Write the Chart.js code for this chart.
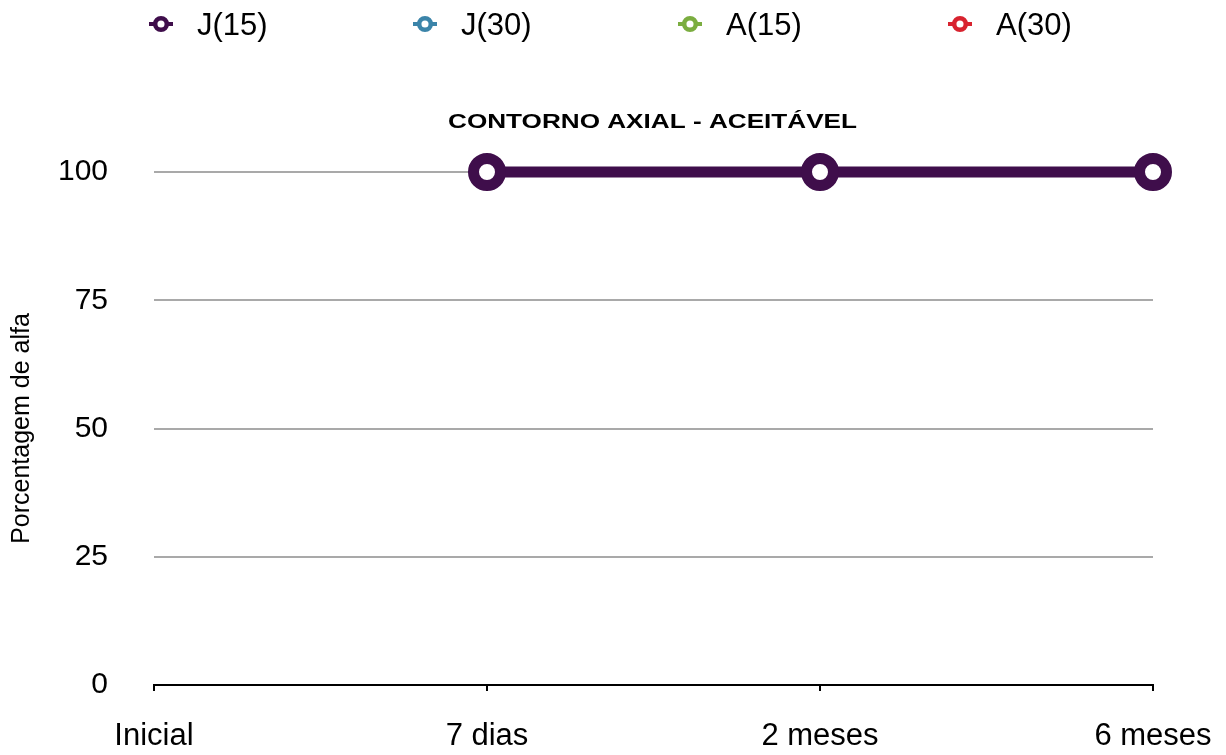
<!DOCTYPE html>
<html>
<head>
<meta charset="utf-8">
<script src="https://cdn.jsdelivr.net/npm/chart.js@4"></script>
<style>
  html, body { margin: 0; padding: 0; background: #fff; }
  #wrap { width: 1226px; height: 755px; }
</style>
</head>
<body>
<div id="wrap"><canvas id="chart"></canvas></div>
<script>
const categories = ["Inicial", "7 dias", "2 meses", "6 meses"];
const seriesNames = ["J(15)", "J(30)", "A(15)", "A(30)"];
const seriesColors = ["#3f0e4b", "#3b84a9", "#7bad40", "#d8232f"];
const j15 = [null, 100, 100, 100];
const j30 = [null, null, null, null];
const a15 = [null, null, null, null];
const a30 = [null, null, null, null];
const yTicks = [0, 25, 50, 75, 100];
const chartTitle = "CONTORNO AXIAL - ACEITÁVEL";

const FONT = "'Liberation Sans', Arial, Helvetica, sans-serif";

const seriesData = [j15, j30, a15, a30];
const datasets = seriesNames.map((name, i) => ({
  label: name,
  data: seriesData[i],
  borderColor: seriesColors[i],
  backgroundColor: "#ffffff",
  pointBackgroundColor: "#ffffff",
  pointBorderColor: seriesColors[i],
  borderWidth: 11,
  pointRadius: 13.5,
  pointBorderWidth: 11,
  pointHoverRadius: 13.5,
  clip: false,
  order: seriesNames.length - i,
}));

// legend + title drawn by hand: legend sits above the title, title is wide
const topDecor = {
  id: "topDecor",
  afterDraw(chart) {
    const ctx = chart.ctx;
    const markerX = [161, 425, 690, 960];
    const y = 24;
    ctx.save();
    chart.data.datasets.forEach((ds, i) => {
      const cx = markerX[i];
      ctx.strokeStyle = ds.borderColor;
      ctx.lineWidth = 4;
      ctx.beginPath();
      ctx.moveTo(cx - 12, y);
      ctx.lineTo(cx + 12, y);
      ctx.stroke();
      ctx.lineWidth = 4.5;
      ctx.fillStyle = "#fff";
      ctx.beginPath();
      ctx.arc(cx, y, 5.8, 0, Math.PI * 2);
      ctx.fill();
      ctx.stroke();
      ctx.fillStyle = "#000";
      ctx.font = "31px " + FONT;
      ctx.textBaseline = "alphabetic";
      ctx.textAlign = "left";
      ctx.fillText(ds.label, cx + 36, 35);
    });

    // title, stretched horizontally like the original
    ctx.font = "bold 20.5px " + FONT;
    const w = ctx.measureText(chartTitle).width;
    const sx = 409 / w;
    ctx.translate(652.5, 127.5);
    ctx.scale(sx, 1);
    ctx.textAlign = "center";
    ctx.textBaseline = "alphabetic";
    ctx.fillText(chartTitle, 0, 0);
    ctx.restore();
  },
};

new Chart(document.getElementById("chart"), {
  type: "line",
  data: { labels: categories, datasets },
  plugins: [topDecor],
  options: {
    responsive: true,
    maintainAspectRatio: false,
    animation: false,
    layout: { padding: { left: 0, right: 73, top: 172, bottom: 0 } },
    plugins: {
      legend: { display: false },
      tooltip: { enabled: false },
      title: { display: false },
    },
    scales: {
      x: {
        offset: false,
        border: { display: true, color: "#000", width: 2 },
        grid: {
          drawOnChartArea: false,
          drawTicks: true,
          tickLength: 6,
          color: "#000",
          lineWidth: 2,
        },
        ticks: {
          color: "#000",
          font: { family: FONT, size: 31 },
          padding: 27,
          maxRotation: 0,
          autoSkip: false,
        },
        afterFit(scale) {
          scale.height = 70;
          scale.paddingLeft = 0;
          scale.paddingRight = 0;
        },
      },
      y: {
        min: 0,
        max: 100,
        border: { display: false },
        grid: {
          color: (c) => (c.tick && c.tick.value === 0 ? "rgba(0,0,0,0)" : "#a9a9a9"),
          lineWidth: 2,
          drawTicks: false,
        },
        afterBuildTicks(scale) {
          scale.ticks = yTicks.map((v) => ({ value: v }));
        },
        ticks: {
          color: "#000",
          font: { family: FONT, size: 30 },
          padding: 46,
        },
        title: {
          display: true,
          text: "Porcentagem de alfa",
          color: "#000",
          font: { family: FONT, size: 25 },
          padding: { top: 7, bottom: 0 },
        },
        afterFit(scale) {
          scale.width = 154;
          scale.paddingTop = 0;
          scale.paddingBottom = 0;
        },
      },
    },
  },
});
</script>
</body>
</html>
